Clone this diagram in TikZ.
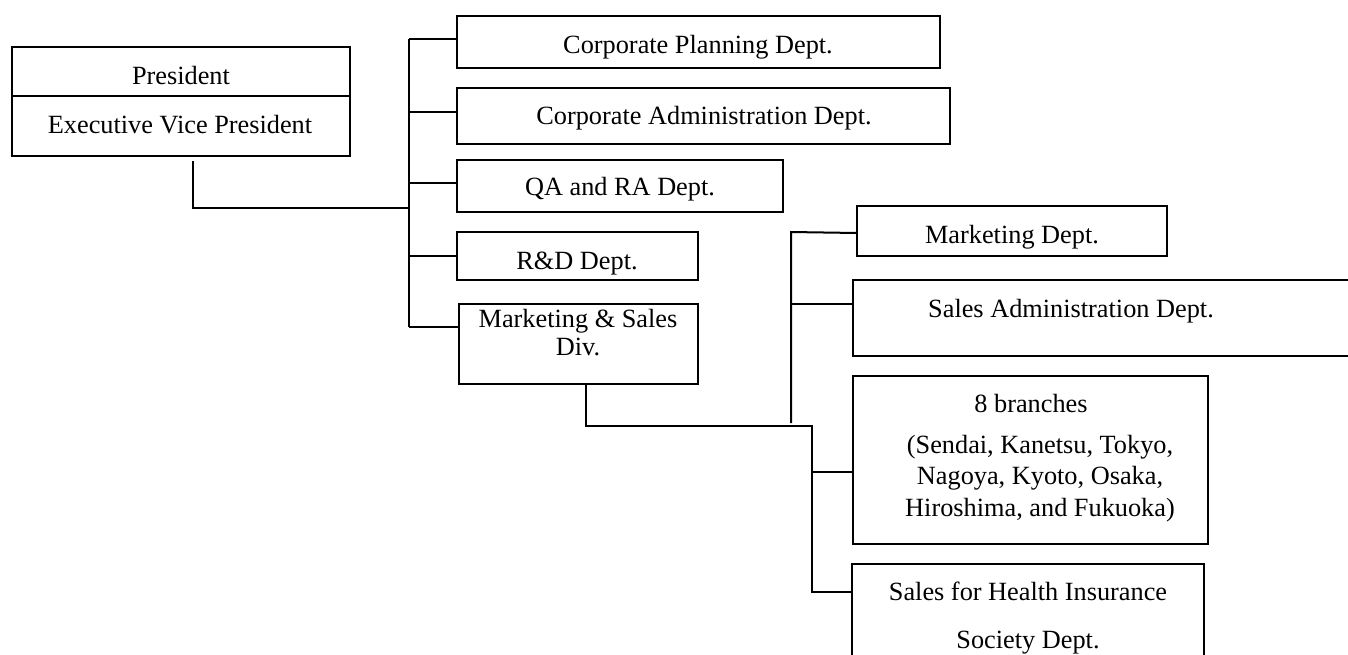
\documentclass[tikz,border=0pt]{standalone}
\usepackage{fontspec}
\setmainfont{Liberation Serif}
\begin{document}
\begin{tikzpicture}[x=0.5pt,y=-0.5pt,
  box/.style={draw, line width=1pt, rectangle, inner sep=0pt, outer sep=0pt},
  txt/.style={anchor=base, inner sep=0pt, font=\fontsize{13.15}{15.8}\selectfont},
  conn/.style={draw, line width=1pt}]
\useasboundingbox (0,0) rectangle (1348,654);
\clip (0,0) rectangle (1348,654);
\fill[white] (0,0) rectangle (1348,654);
% boxes
\node[box, minimum width=169pt, minimum height=54.5pt] (pres) at (181,101.5) {};
\node[box, minimum width=241.5pt, minimum height=26pt] (cp) at (698.5,42) {};
\node[box, minimum width=246.5pt, minimum height=28pt] (ca) at (703.5,116) {};
\node[box, minimum width=163pt, minimum height=26pt] (qa) at (620,186) {};
\node[box, minimum width=120.5pt, minimum height=24pt] (rd) at (577.5,256) {};
\node[box, minimum width=119.5pt, minimum height=40pt] (ms) at (578.5,344) {};
\node[box, minimum width=155pt, minimum height=25pt] (md) at (1012,231) {};
\node[box, minimum width=258.5pt, minimum height=38pt] (sa) at (1111.5,318) {};
\node[box, minimum width=177.5pt, minimum height=84pt] (br) at (1030.5,460) {};
\node[box, minimum width=176pt, minimum height=58pt] (sh) at (1028,622) {};
% divider in president box
\coordinate (dl) at (12,96);
\coordinate (dr) at (350,96);
\draw[line width=1pt] (dl) -- (dr);
% texts
\node[txt] (tpres) at (181,84) {President};
\node[txt] (tevp) at (180,133) {Executive Vice President};
\node[txt] (tcp) at (698,53) {Corporate Planning Dept.};
\node[txt] (tca) at (704,124) {Corporate Administration Dept.};
\node[txt] (tqa) at (620,195) {QA and RA Dept.};
\node[txt] (trd) at (577,269) {R\&D Dept.};
\node[txt] (tms1) at (578,327) {Marketing \& Sales};
\node[txt] (tms2) at (578,355) {Div.};
\node[txt] (tmd) at (1012,243) {Marketing Dept.};
\node[txt] (tsa) at (1071,317) {Sales Administration Dept.};
\node[txt] (tbr1) at (1031,412) {8 branches};
\node[txt] (tbr2) at (1040,453) {(Sendai, Kanetsu, Tokyo,};
\node[txt] (tbr3) at (1040,484) {Nagoya, Kyoto, Osaka,};
\node[txt] (tbr4) at (1040,516) {Hiroshima, and Fukuoka)};
\node[txt] (tsh1) at (1028,600) {Sales for Health Insurance};
\node[txt] (tsh2) at (1028,648) {Society Dept.};
% main tree
\coordinate (p1) at (193,161);
\coordinate (p2) at (409,208);
\coordinate (s1) at (409,39);
\coordinate (s2) at (409,112);
\coordinate (s3) at (409,183);
\coordinate (s4) at (409,256);
\coordinate (s5) at (409,327);
\draw[conn] (p1) |- (p2);
\draw[conn] (s1) -- (s5);
\draw[conn] (s1) -- (cp.west |- s1);
\draw[conn] (s2) -- (ca.west |- s2);
\draw[conn] (s3) -- (qa.west |- s3);
\draw[conn] (s4) -- (rd.west |- s4);
\draw[conn] (s5) -- (ms.west |- s5);
% sub tree
\coordinate (m1) at (586,385);
\coordinate (m2) at (586,426);
\coordinate (m3) at (812,426);
\coordinate (b1) at (812,472);
\coordinate (b2) at (812,592);
\coordinate (u1) at (791,232);
\coordinate (u2) at (791,304);
\coordinate (u3) at (791,423);
\draw[conn] (m1) -- (m2) -- (m3) -- (b2) -- (sh.west |- b2);
\draw[conn] (b1) -- (br.west |- b1);
\draw[conn] (u3) -- (u1) -- (md.west |- 0,233);
\draw[conn] (u2) -- (sa.west |- u2);
\end{tikzpicture}
\end{document}
